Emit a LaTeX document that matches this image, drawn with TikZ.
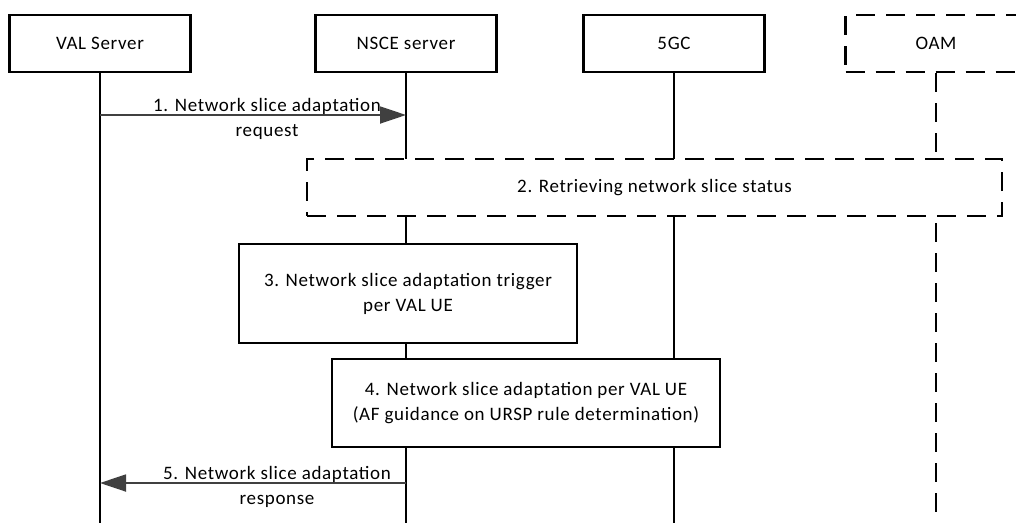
\documentclass[tikz,border=0pt]{standalone}
\usepackage{fontspec}
\setmainfont[LetterSpace = 3.5]{Carlito}
\usetikzlibrary{arrows.meta}
\definecolor{msggray}{RGB}{64,64,64}
\newcommand\picwidth{1016}
\newcommand\picheight{523}
\newcommand\headrow{43.5}

\tikzset{
	headbox/.style = {draw, line width = 2.2pt, minimum width = 181pt, minimum height = 57pt, inner sep = 0pt},
	stepbox/.style = {draw, fill = white, line width = 2.2pt, align = center, inner sep = 0pt},
	dashedline/.style = {dash pattern = on 19pt off 11pt},
	lifeline/.style = {line width = 1.8pt},
	msg/.style = {draw = msggray, line width = 1.8pt, -{Triangle[length = 26pt, width = 17pt]}},
	msglabel/.style = {midway, yshift = -4pt, align = center, text = black},
}

\begin{document}
\begin{tikzpicture}[yscale = -1, x = 1pt, y = 1pt, font = \fontsize{19pt}{25pt}\selectfont]
	\useasboundingbox (0, 0) rectangle (\picwidth, \picheight);
	\clip (0, 0) rectangle (\picwidth, \picheight);

	% Teilnehmer:
	\node [headbox] (val) at (100, \headrow) {VAL Server};
	\node [headbox] (nsce) at (406, \headrow) {NSCE server};
	\node [headbox] (core) at (674, \headrow) {5GC};
	\node [headbox, dashedline] (oam) at (936, \headrow) {OAM};

	% Lebenslinien:
	\coordinate (valend) at (100, \picheight);
	\coordinate (nsceend) at (406, \picheight);
	\coordinate (coreend) at (674, \picheight);
	\coordinate (oamend) at (936, \picheight);
	\foreach \n in {val, nsce, core} {
		\draw [lifeline] (\n.south) -- (\n end);
	}
	\draw [lifeline, dashedline] (oam.south) -- (oamend);

	% Schritte
	\node [stepbox, dashedline, minimum width = 695pt, minimum height = 57pt] (status) at (654.5, 187.5) {2. Retrieving network slice status};
	\node [stepbox, minimum width = 338pt, minimum height = 99pt] (trigger) at (408, 293.5) {3. Network slice adaptation trigger\\per VAL UE};
	\node [stepbox, minimum width = 388pt, minimum height = 88pt] (adapt) at (526, 403) {4. Network slice adaptation per VAL UE\\(AF guidance on URSP rule determination)};

	% Nachrichten
	\draw [msg] (val.south |- 0, 115) -- (nsce.south |- 0, 115)
		node [msglabel, xshift = 14pt] {1. Network slice adaptation\\request};
	\draw [msg] (nsce.south |- 0, 483) -- (val.south |- 0, 483)
		node [msglabel, xshift = 24pt] {5. Network slice adaptation\\response};
\end{tikzpicture}
\end{document}
